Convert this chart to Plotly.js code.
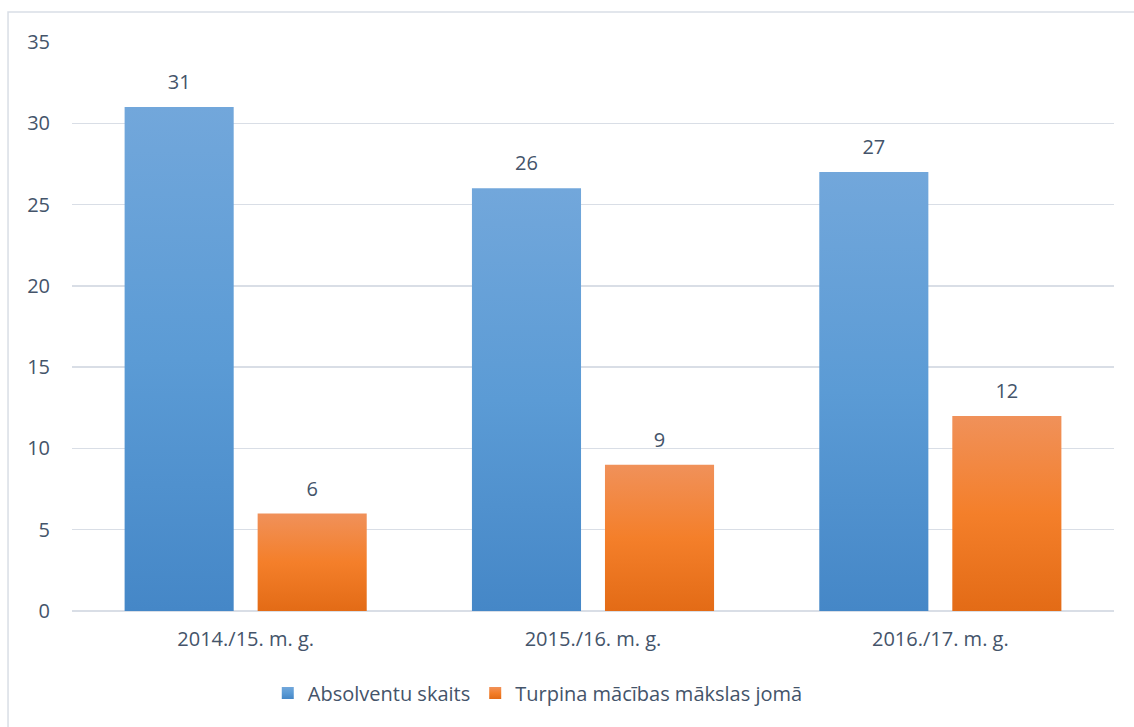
<!DOCTYPE html>
<html>
<head>
<meta charset="utf-8">
<script src="https://cdn.plot.ly/plotly-3.0.1.min.js"></script>
<style>
  html, body { margin: 0; padding: 0; background: #fff; }
  #chart { width: 1134px; height: 727px; }
</style>
</head>
<body>
<div id="chart"></div>
<script>
// chart data
const categories = ['2014./15. m. g.', '2015./16. m. g.', '2016./17. m. g.'];
const absolventi = [31, 26, 27];
const turpina = [6, 9, 12];
const seriesNames = ['Absolventu skaits', 'Turpina mācības mākslas jomā'];

const textColor = '#44546A';
const gridColor = '#D9DEE6';
const fontFam = '"Open Sans", Lato, sans-serif';
const fs = 20;

// top / middle / bottom colours for the vertical gradients
const gradients = [
  ['#72A7DB', '#5B9BD5', '#4587C7'],
  ['#F0915A', '#F47F2A', '#E36B16']
];

const bars = [
  { type:'bar', x: categories, y: absolventi, name: seriesNames[0], offsetgroup:'a',
    marker:{color: gradients[0][1]}, hoverinfo:'y' },
  { type:'bar', x: categories, y: turpina, name: seriesNames[1], offsetgroup:'b',
    marker:{color: gradients[1][1]}, hoverinfo:'y' }
];

// value labels, grouped the same way as the bars
const labels = [absolventi, turpina].map((vals, i) => ({
  type:'scatter', mode:'markers+text', x: categories, y: vals, text: vals.map(String),
  offsetgroup: i ? 'b' : 'a', textposition:'top center', showlegend:false, hoverinfo:'skip',
  marker:{size:19, opacity:0}, textfont:{family: fontFam, size:fs, color: textColor}
}));

const layout = {
  width:1134, height:727,
  margin:{l:72, r:20, t:42, b:116},
  paper_bgcolor:'#fff', plot_bgcolor:'#fff',
  font:{family: fontFam, size:fs, color: textColor},
  barmode:'group', bargap:0.234, bargroupgap:0.18,
  scattermode:'group',
  xaxis:{type:'category', showgrid:false, showline:false, ticks:'', ticklabelstandoff:14,
         tickfont:{size:fs, color:textColor}},
  yaxis:{range:[0,35], dtick:5, showgrid:true, gridcolor:gridColor, gridwidth:1.3,
         zeroline:true, zerolinecolor:gridColor, zerolinewidth:1.3, showline:false,
         ticks:'', ticklabelstandoff:21, tickfont:{size:fs, color:textColor}},
  showlegend:true,
  legend:{orientation:'h', x:0.447, xanchor:'center', y:-0.144, yanchor:'middle',
          font:{size:fs, color:textColor}, itemwidth:30},
  shapes:[{type:'rect', xref:'paper', yref:'paper', x0:-0.0614, x1:1.2, y0:-0.4, y1:1.0527,
           line:{color:gridColor, width:1.5}, fillcolor:'rgba(0,0,0,0)', layer:'below'}]
};

const gd = document.getElementById('chart');
Plotly.newPlot(gd, bars.concat(labels), layout, {displayModeBar:false, staticPlot:true}).then(() => {
  // add per-bar vertical gradients
  const svg = gd.querySelector('.main-svg');
  const defs = svg.querySelector('defs');
  const ns = 'http://www.w3.org/2000/svg';
  gradients.forEach((cols, i) => {
    const lg = document.createElementNS(ns, 'linearGradient');
    lg.setAttribute('id', 'barGrad' + i);
    lg.setAttribute('x1', '0'); lg.setAttribute('y1', '0');
    lg.setAttribute('x2', '0'); lg.setAttribute('y2', '1');
    [[0, cols[0]], [0.5, cols[1]], [1, cols[2]]].forEach(([o, c]) => {
      const s = document.createElementNS(ns, 'stop');
      s.setAttribute('offset', o); s.setAttribute('stop-color', c);
      lg.appendChild(s);
    });
    defs.appendChild(lg);
  });
  gd.querySelectorAll('.barlayer .trace').forEach((tr, i) => {
    tr.querySelectorAll('path').forEach(p => { p.style.fill = 'url(#barGrad' + i + ')'; });
  });
  gd.querySelectorAll('.legend .traces').forEach((tr, i) => {
    tr.querySelectorAll('.legendpoints path').forEach(p => { p.style.fill = 'url(#barGrad' + i + ')'; });
  });
});
</script>
</body>
</html>
